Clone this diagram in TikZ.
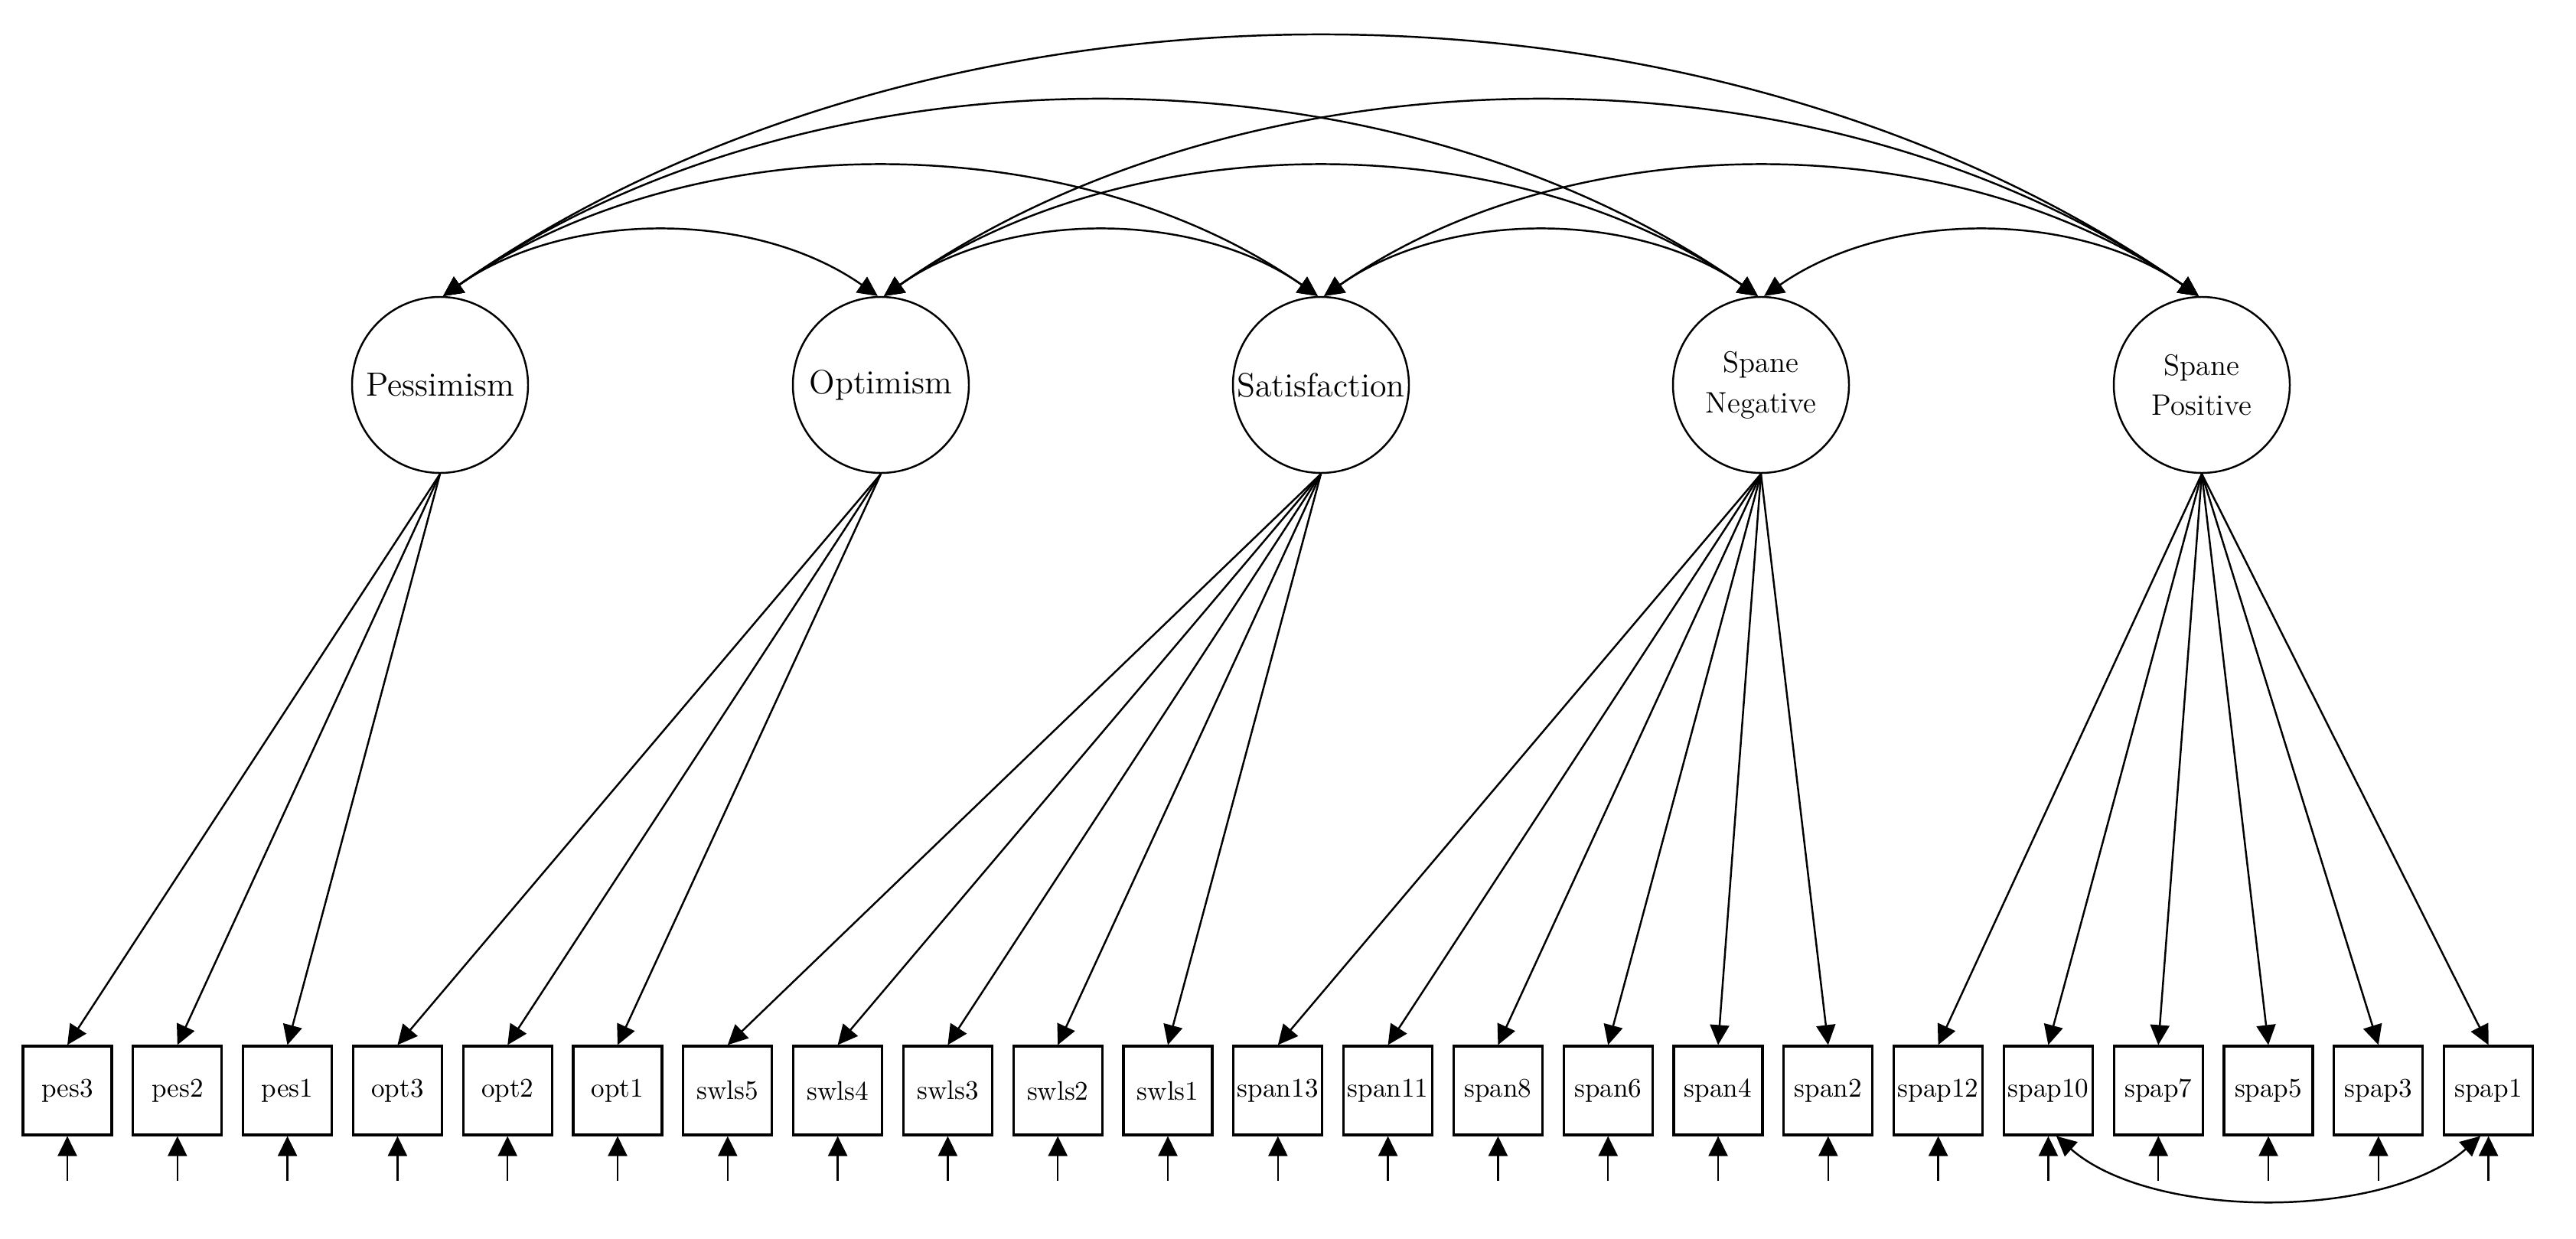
\documentclass[tikz,border=0pt]{standalone}
\usepackage{tikz}
\usetikzlibrary{arrows.meta, calc}

\begin{document}
\begin{tikzpicture}[
          latent/.style={circle, draw, line width=0.7pt, minimum size=2.3cm,
                         inner sep=0pt, align=center,
                         font=\fontsize{12.5}{14}\selectfont},
          twoline/.style={font=\fontsize{11}{15}\selectfont},
          item/.style={rectangle, draw, line width=0.9pt,
                       minimum width=1.16cm, minimum height=1.16cm,
                       inner sep=0pt, font=\fontsize{10}{12}\selectfont},
          load/.style={-{Triangle[length=0.26cm,width=0.25cm]}, line width=0.7pt},
          cov/.style={{Triangle[length=0.26cm,width=0.25cm]}-{Triangle[length=0.26cm,width=0.25cm]},
                      line width=0.7pt}
        ]
        \useasboundingbox (0,0) rectangle (33.66,16.18);

        % Latent factors
        \node[latent] (pes) at (5.75, 11.15) {Pessimism};
        \node[latent] (opt) at (11.51,11.15) {Optimism};
        \node[latent] (sat) at (17.26,11.15) {Satisfaction};
        \node[latent, twoline] (spn) at (23.01,11.15) {Spane\\Negative};
        \node[latent, twoline] (spp) at (28.77,11.15) {Spane\\Positive};

        % Observed items
        \node[item] (pes3)   at (0.88, 1.93) {pes3};
        \node[item] (pes2)   at (2.318,1.93) {pes2};
        \node[item] (pes1)   at (3.756,1.93) {pes1};
        \node[item] (opt3)   at (5.194,1.93) {opt3};
        \node[item] (opt2)   at (6.632,1.93) {opt2};
        \node[item] (opt1)   at (8.07, 1.93) {opt1};
        \node[item] (swls5)  at (9.508,1.93) {swls5};
        \node[item] (swls4)  at (10.946,1.93) {swls4};
        \node[item] (swls3)  at (12.384,1.93) {swls3};
        \node[item] (swls2)  at (13.822,1.93) {swls2};
        \node[item] (swls1)  at (15.26,1.93) {swls1};
        \node[item] (span13) at (16.698,1.93) {span13};
        \node[item] (span11) at (18.136,1.93) {span11};
        \node[item] (span8)  at (19.574,1.93) {span8};
        \node[item] (span6)  at (21.012,1.93) {span6};
        \node[item] (span4)  at (22.45,1.93) {span4};
        \node[item] (span2)  at (23.888,1.93) {span2};
        \node[item] (spap12) at (25.326,1.93) {spap12};
        \node[item] (spap10) at (26.764,1.93) {spap10};
        \node[item] (spap7)  at (28.202,1.93) {spap7};
        \node[item] (spap5)  at (29.64,1.93) {spap5};
        \node[item] (spap3)  at (31.078,1.93) {spap3};
        \node[item] (spap1)  at (32.516,1.93) {spap1};

        % Loadings
        \foreach \b in {pes3,pes2,pes1} \draw[load] (pes.south) -- (\b.north);
        \foreach \b in {opt3,opt2,opt1} \draw[load] (opt.south) -- (\b.north);
        \foreach \b in {swls5,swls4,swls3,swls2,swls1} \draw[load] (sat.south) -- (\b.north);
        \foreach \b in {span13,span11,span8,span6,span4,span2} \draw[load] (spn.south) -- (\b.north);
        \foreach \b in {spap12,spap10,spap7,spap5,spap3,spap1} \draw[load] (spp.south) -- (\b.north);

        % Error terms
        \foreach \b in {pes3,pes2,pes1,opt3,opt2,opt1,swls5,swls4,swls3,swls2,swls1,
                        span13,span11,span8,span6,span4,span2,
                        spap12,spap10,spap7,spap5,spap3,spap1} {
          \coordinate (e\b) at ($(\b.south)+(0,-0.58)$);
          \draw[load] (e\b) -- (\b.south);
        }

        % Factor covariances
        \draw[cov] (pes.88) .. controls +(1.61,1.13) and +(-1.61,1.13) .. (opt.92);
        \draw[cov] (opt.88) .. controls +(1.61,1.13) and +(-1.61,1.13) .. (sat.92);
        \draw[cov] (sat.88) .. controls +(1.61,1.13) and +(-1.61,1.13) .. (spn.92);
        \draw[cov] (spn.88) .. controls +(1.61,1.13) and +(-1.61,1.13) .. (spp.92);
        \draw[cov] (pes.88) .. controls +(3.22,2.25) and +(-3.22,2.25) .. (sat.92);
        \draw[cov] (opt.88) .. controls +(3.22,2.25) and +(-3.22,2.25) .. (spn.92);
        \draw[cov] (sat.88) .. controls +(3.22,2.25) and +(-3.22,2.25) .. (spp.92);
        \draw[cov] (pes.88) .. controls +(4.83,3.39) and +(-4.83,3.39) .. (spn.92);
        \draw[cov] (opt.88) .. controls +(4.83,3.39) and +(-4.83,3.39) .. (spp.92);
        \draw[cov] (pes.88) .. controls +(6.44,4.51) and +(-6.44,4.51) .. (spp.92);

        % Residual covariance
        \draw[cov] (spap10.-80) .. controls +(1.25,-1.1) and +(-1.25,-1.1) .. (spap1.-100);
      \end{tikzpicture}
\end{document}
